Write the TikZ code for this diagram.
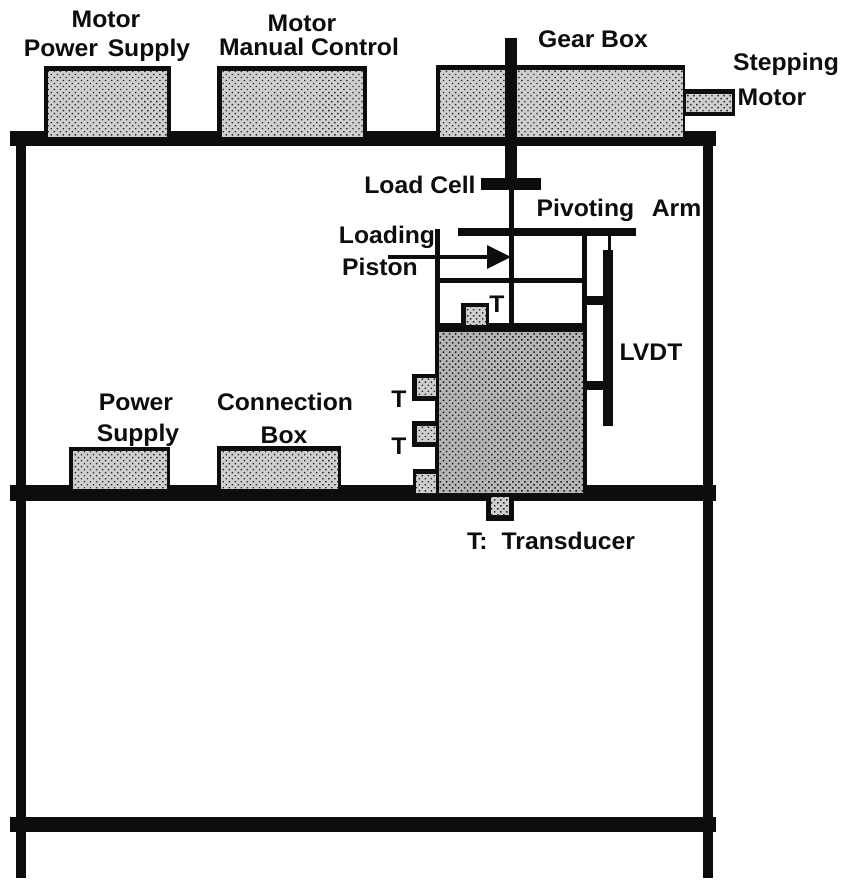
\documentclass[tikz,border=0pt]{standalone}
\usepackage{fontspec}
\setmainfont{Liberation Sans}[BoldFeatures={FakeStretch=1.03}]
\usetikzlibrary{patterns.meta,arrows.meta}
\definecolor{ink}{gray}{0.05}
\tikzset{
  lab/.style={font=\fontsize{18}{20}\selectfont\bfseries,text=ink,inner sep=0pt,anchor=center},
  beam/.style={fill=ink,draw=none},
}
\newcommand{\stip}[4]{\fill[white!62!gray] (#1,#2) rectangle (#3,#4);\fill[pattern={Dots[distance=3.2pt,radius=0.75pt,angle=45]},pattern color=black!85] (#1,#2) rectangle (#3,#4);}
\newcommand{\stipdark}[4]{\fill[white!42!gray] (#1,#2) rectangle (#3,#4);\fill[pattern={Dots[distance=3.2pt,radius=0.8pt,angle=45]},pattern color=black!90] (#1,#2) rectangle (#3,#4);}
\begin{document}
\begin{tikzpicture}[x=0.75pt,y=-0.75pt]
\useasboundingbox (0,0) rectangle (842,880);
\fill[white] (0,0) rectangle (842,880);
% frame
\fill[beam] (10,131) rectangle (716,146);
\fill[beam] (10,485) rectangle (716,501);
\fill[beam] (10,817) rectangle (716,832);
\fill[beam] (16,140) rectangle (26,878);
\fill[beam] (703,140) rectangle (713,878);
% top boxes
\fill[ink] (44,66) rectangle (171,137);
\stip{48}{71}{167}{137}
\fill[ink] (217,66) rectangle (367,137);
\stip{222}{71}{363}{137}
\fill[ink] (436,65) rectangle (685,137);
\stip{440}{70}{683}{137}
% stepping motor
\fill[ink] (684,89) rectangle (735,116);
\stip{686}{94}{732}{112}
% shaft
\fill[beam] (505,38) rectangle (517,178);
\fill[beam] (509,178) rectangle (514,326);
% load cell
\fill[beam] (481,178) rectangle (541,190);
% pivoting arm
\fill[beam] (458,228) rectangle (636,236);
% housing
\fill[beam] (435,229) rectangle (440,495);
\fill[beam] (582,232) rectangle (587,495);
\fill[beam] (437,278) rectangle (585,283);
\fill[ink] (435,323) rectangle (587,332);
\stipdark{439}{332}{583}{493}
% LVDT
\fill[beam] (608,234) rectangle (611,251);
\fill[beam] (603,250) rectangle (613,426);
\fill[beam] (586,296) rectangle (604,305);
\fill[beam] (586,381) rectangle (604,390);
% transducers
\fill[ink] (461,303) rectangle (489,325);
\stip{466}{307}{486}{325}
\fill[ink] (412,374) rectangle (437,401);
\stip{417}{378}{436}{396}
\fill[ink] (412,421) rectangle (437,447);
\stip{417}{426}{436}{442}
\fill[ink] (413,469) rectangle (437,487);
\stip{416}{474}{436}{493}
\fill[ink] (486,499) rectangle (514,521);
\stip{491}{497}{509}{515}
% lower boxes
\fill[ink] (69,447) rectangle (170,490);
\stip{73}{451}{167}{489}
\fill[ink] (217,446) rectangle (341,490);
\stip{221}{451}{338}{489}
% arrow
\coordinate (arrowstart) at (388,257);
\coordinate (arrowend) at (511,257);
\draw[ink,line width=3pt,-{Triangle[length=18pt,width=17pt]}] (arrowstart) -- (arrowend);
% labels
\node[lab] (mps1) at (106,19) {Motor};
\node[lab] (mps2) at (107,50) {Power\hspace{0.12em} Supply};
\node[lab] (mmc1) at (302,23) {Motor};
\node[lab] (mmc2) at (309,47) {Manual Control};
\node[lab] (gb) at (593,39) {Gear Box};
\node[lab] (sm1) at (786,64) {Stepping};
\node[lab] (sm2) at (772,97) {Motor};
\node[lab] (lc) at (420,185) {Load Cell};
\node[lab] (pa) at (619,210) {Pivoting\hspace{0.45em} Arm};
\node[lab] (lp1) at (387,237) {Loading};
\node[lab] (lp2) at (380,267) {Piston};
\node[lab] (t1) at (497,304) {T};
\node[lab] (lvdt) at (651,352) {LVDT};
\node[lab] (t2) at (399,399) {T};
\node[lab] (t3) at (399,446) {T};
\node[lab] (ps1) at (136,402) {Power};
\node[lab] (ps2) at (138,435) {Supply};
\node[lab] (cb1) at (285,402) {Connection};
\node[lab] (cb2) at (284,435) {Box};
\node[lab] (td) at (551,541) {T:\hspace{0.3em} Transducer};
\end{tikzpicture}
\end{document}
